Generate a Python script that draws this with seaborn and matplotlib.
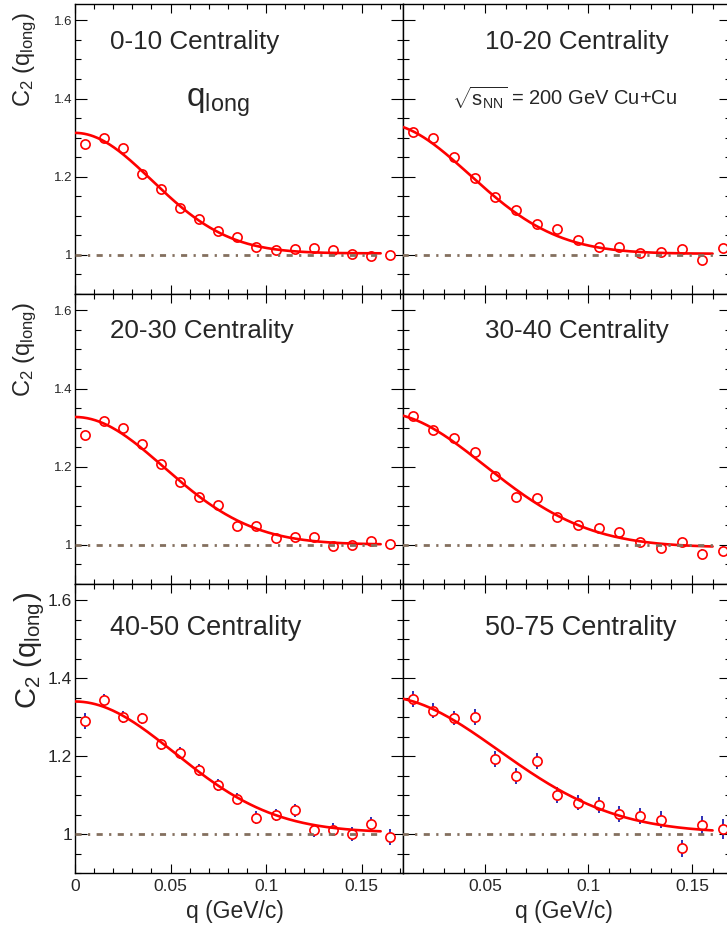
import numpy as np
import matplotlib
matplotlib.use("Agg")
import matplotlib.pyplot as plt
from matplotlib.ticker import MultipleLocator, FixedLocator, FuncFormatter
import seaborn as sns


# q bin centres (GeV/c)
q_left = [0.005, 0.015, 0.025, 0.035, 0.045, 0.055, 0.065, 0.075, 0.085,
          0.095, 0.105, 0.115, 0.125, 0.135, 0.145, 0.155, 0.165]
q_right = q_left[1:]

# C2(q_long) per centrality bin
c2_0_10 = [1.285, 1.298, 1.274, 1.207, 1.168, 1.121, 1.091, 1.060, 1.046,
           1.020, 1.012, 1.014, 1.018, 1.013, 1.003, 0.997, 0.999]
c2_10_20 = [1.315, 1.298, 1.250, 1.196, 1.149, 1.114, 1.079, 1.066,
            1.039, 1.021, 1.020, 1.004, 1.007, 1.015, 0.988, 1.017]
c2_20_30 = [1.282, 1.317, 1.298, 1.257, 1.206, 1.161, 1.123, 1.103, 1.049,
            1.048, 1.017, 1.019, 1.020, 0.998, 1.000, 1.009, 1.002]
c2_30_40 = [1.329, 1.293, 1.274, 1.237, 1.176, 1.123, 1.120, 1.071,
            1.051, 1.043, 1.032, 1.007, 0.992, 1.007, 0.978, 0.985]
c2_40_50 = [1.290, 1.344, 1.300, 1.297, 1.230, 1.208, 1.164, 1.126, 1.091,
            1.042, 1.049, 1.061, 1.010, 1.011, 1.001, 1.026, 0.993]
c2_50_75 = [1.347, 1.317, 1.298, 1.300, 1.192, 1.149, 1.188, 1.100,
            1.081, 1.074, 1.052, 1.046, 1.037, 0.963, 1.023, 1.013]

# statistical errors
err_0_10 = [0.008] * 17
err_10_20 = [0.009] * 16
err_20_30 = [0.009] * 17
err_30_40 = [0.011] * 16
err_40_50 = [0.021, 0.016, 0.015, 0.015, 0.015, 0.015, 0.015, 0.015, 0.015,
             0.016, 0.016, 0.017, 0.017, 0.017, 0.018, 0.019, 0.020]
err_50_75 = [0.021, 0.019, 0.019, 0.020, 0.020, 0.020, 0.021, 0.020,
             0.020, 0.021, 0.021, 0.021, 0.022, 0.022, 0.024, 0.026]

# gaussian fit parameters: normalisation, lambda, R_long (fm)
fit_norm = [1.004, 1.003, 1.001, 0.994, 1.004, 1.003]
fit_lambda = [0.307, 0.333, 0.326, 0.346, 0.335, 0.349]
fit_radius = [3.47, 3.28, 3.00, 2.79, 2.67, 2.47]

titles = ["0-10 Centrality", "10-20 Centrality", "20-30 Centrality",
          "30-40 Centrality", "40-50 Centrality", "50-75 Centrality"]

HBARC = 0.1973
W, H = 727, 932


def fx(px):
    return px / W


def fy(py):
    return 1 - py / H


sns.set_theme(style="ticks")
plt.rcParams["font.family"] = ["Liberation Sans", "DejaVu Sans"]
plt.rcParams["mathtext.fontset"] = "custom"
plt.rcParams["mathtext.rm"] = "Liberation Sans"
plt.rcParams["mathtext.it"] = "Liberation Sans:italic"
plt.rcParams["mathtext.bf"] = "Liberation Sans:bold"
plt.rcParams["axes.linewidth"] = 1.0

fig = plt.figure(figsize=(W / 100, H / 100), dpi=100)

rows = [(4, 294), (294, 584), (584, 873)]
cols = [(75, 403, (0.0, 0.1717)), (403, 731, (0.0104, 0.1689))]

panel_data = [
    (q_left, c2_0_10, err_0_10),
    (q_right, c2_10_20, err_10_20),
    (q_left, c2_20_30, err_20_30),
    (q_right, c2_30_40, err_30_40),
    (q_left, c2_40_50, err_40_50),
    (q_right, c2_50_75, err_50_75),
]

q_fit = np.linspace(0, 0.16, 300)

for i, (q, c2, err) in enumerate(panel_data):
    r, c = divmod(i, 2)
    top, bot = rows[r]
    left, right, xlim = cols[c]
    bottom_row = r == 2

    ax = fig.add_axes([fx(left), fy(bot), (right - left) / W, (bot - top) / H])
    ax.set_facecolor("white")

    ax.errorbar(q, c2, yerr=err, fmt="none", ecolor="#1f1fb0",
                elinewidth=1.3, capsize=0, zorder=2)

    sns.scatterplot(x=q, y=c2, ax=ax, marker="o", s=44, color="white",
                    edgecolor="#ff0000", linewidth=1.2, zorder=3)

    fit = fit_norm[i] * (1 + fit_lambda[i] *
                         np.exp(-(fit_radius[i] * q_fit / HBARC) ** 2))
    sns.lineplot(x=q_fit, y=fit, ax=ax, color="#ff0000", linewidth=1.9,
                 zorder=4)

    sns.lineplot(x=[0, 0.16], y=[1, 1], ax=ax, color="#84705f",
                 linewidth=2.0, linestyle=(0, (2.2, 2.3, 0.8, 2.3)),
                 zorder=4)

    ax.set_xlim(*xlim)
    ax.set_ylim(0.9, 1.642)

    ax.xaxis.set_major_locator(FixedLocator([0, 0.05, 0.1, 0.15]))
    ax.xaxis.set_minor_locator(MultipleLocator(0.01))
    ax.yaxis.set_major_locator(FixedLocator([1.0, 1.2, 1.4, 1.6]))
    ax.yaxis.set_minor_locator(MultipleLocator(0.05))
    ax.xaxis.set_major_formatter(FuncFormatter(lambda v, p: f"{v:g}"))
    ax.yaxis.set_major_formatter(FuncFormatter(lambda v, p: f"{v:g}"))

    ax.tick_params(which="both", direction="in", top=True, right=True,
                   color="black", width=0.8)
    ax.tick_params(axis="y", which="major", length=8.6)
    ax.tick_params(axis="y", which="minor", length=4.3)
    ax.tick_params(axis="x", which="major", length=6.5)
    ax.tick_params(axis="x", which="minor", length=3.4)

    tick_size = 12.5 if bottom_row else 9.5
    ax.tick_params(axis="y", labelsize=tick_size, pad=2,
                   labelleft=(c == 0))
    ax.tick_params(axis="x", labelsize=12.5, pad=4.5,
                   labelbottom=bottom_row)

    for s in ax.spines.values():
        s.set_color("black")
        s.set_linewidth(1.0)

    ax.set_xlabel("")
    ax.set_ylabel("")

    tx = 110 if c == 0 else 485
    ty = [49, 338, 635][r]
    fig.text(fx(tx), fy(ty), titles[i], fontsize=19.5 if bottom_row else 18.7,
             ha="left", va="baseline")

# y axis titles, left column
for top, size in [(12, 17), (302, 17), (592, 21)]:
    fig.text(fx(12), fy(top), r"$\mathrm{C_{2}\ (q_{long})}$", fontsize=size,
             rotation=90, ha="left", va="top")

# x axis titles, bottom row
for cx in [235, 564]:
    fig.text(fx(cx), fy(918), "q (GeV/c)", fontsize=16.5,
             ha="center", va="baseline")

fig.text(fx(186), fy(107), r"$\mathrm{q_{long}}$", fontsize=24,
         ha="left", va="baseline")
fig.text(fx(452), fy(105), r"$\sqrt{\mathrm{s_{NN}}}$ = 200 GeV Cu+Cu",
         fontsize=14.5, ha="left", va="baseline")

fig.savefig("out.png", dpi=100)
